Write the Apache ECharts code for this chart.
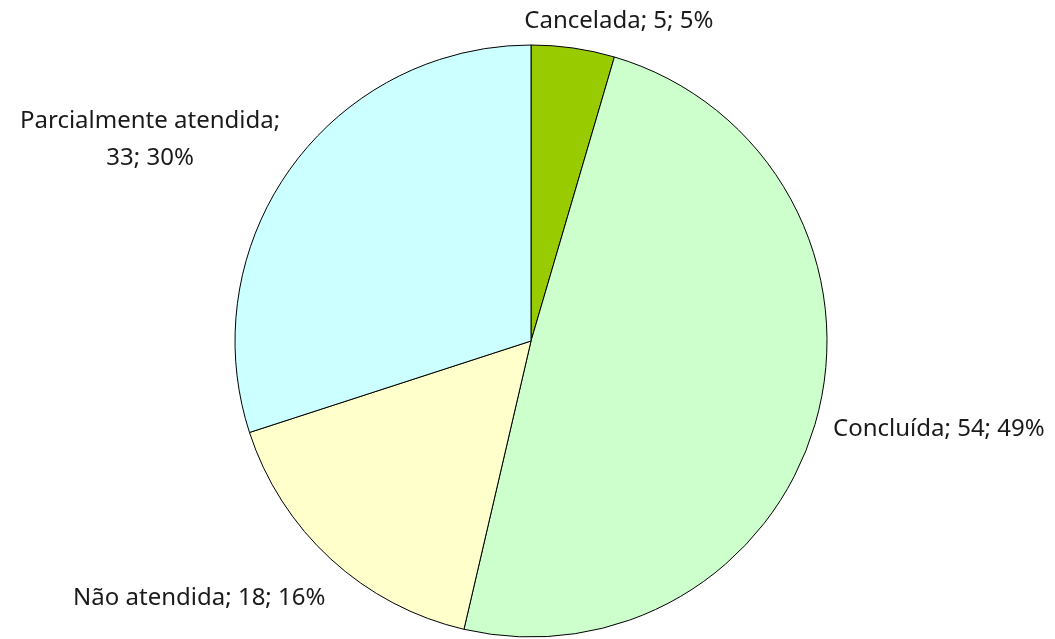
<!DOCTYPE html>
<html>
<head>
<meta charset="utf-8">
<script src="https://cdn.jsdelivr.net/npm/echarts@6/dist/echarts.min.js"></script>
<style>
    html, body { margin: 0; padding: 0; background: #fff; }
    #chart { width: 1055px; height: 639px; }
</style>
</head>
<body>
<div id="chart"></div>
<script>
// dados
var categorias = ['Cancelada', 'Concluída', 'Não atendida', 'Parcialmente atendida'];
var valores = [5, 54, 18, 33];
var cores = ['#99CC00', '#CCFFCC', '#FFFFCC', '#CCFFFF'];

// ajuste fino dos rótulos (deslocamento a partir da posição padrão)
var ajustes = [
    { dx: -55, dy: -19 },
    { dx: 3, dy: 11 },
    { dx: 5, dy: 33 },
    { dx: -130, dy: -23, align: 'center' }
];

var myChart = echarts.init(document.getElementById('chart'));

var dados = categorias.map(function (nome, i) {
    return { name: nome, value: valores[i], itemStyle: { color: cores[i] } };
});

myChart.setOption({
    animation: false,
    series: [
        {
            type: 'pie',
            center: [531, 341],
            radius: 296,
            startAngle: 90,
            clockwise: true,
            percentPrecision: 0,
            data: dados,
            itemStyle: {
                borderColor: '#000',
                borderWidth: 1
            },
            label: {
                show: true,
                position: 'outside',
                color: '#1a1a1a',
                fontFamily: 'Noto Sans',
                fontSize: 24,
                lineHeight: 37,
                formatter: function (p) {
                    // nome longo quebra em duas linhas
                    if (p.name.length > 15) {
                        return p.name + ';\n' + p.value + '; ' + p.percent + '%';
                    }
                    return p.name + '; ' + p.value + '; ' + p.percent + '%';
                }
            },
            labelLine: {
                show: false,
                length: 8,
                length2: 0
            },
            labelLayout: function (params) {
                return ajustes[params.dataIndex];
            },
            emphasis: { disabled: true }
        }
    ]
});
</script>
</body>
</html>
